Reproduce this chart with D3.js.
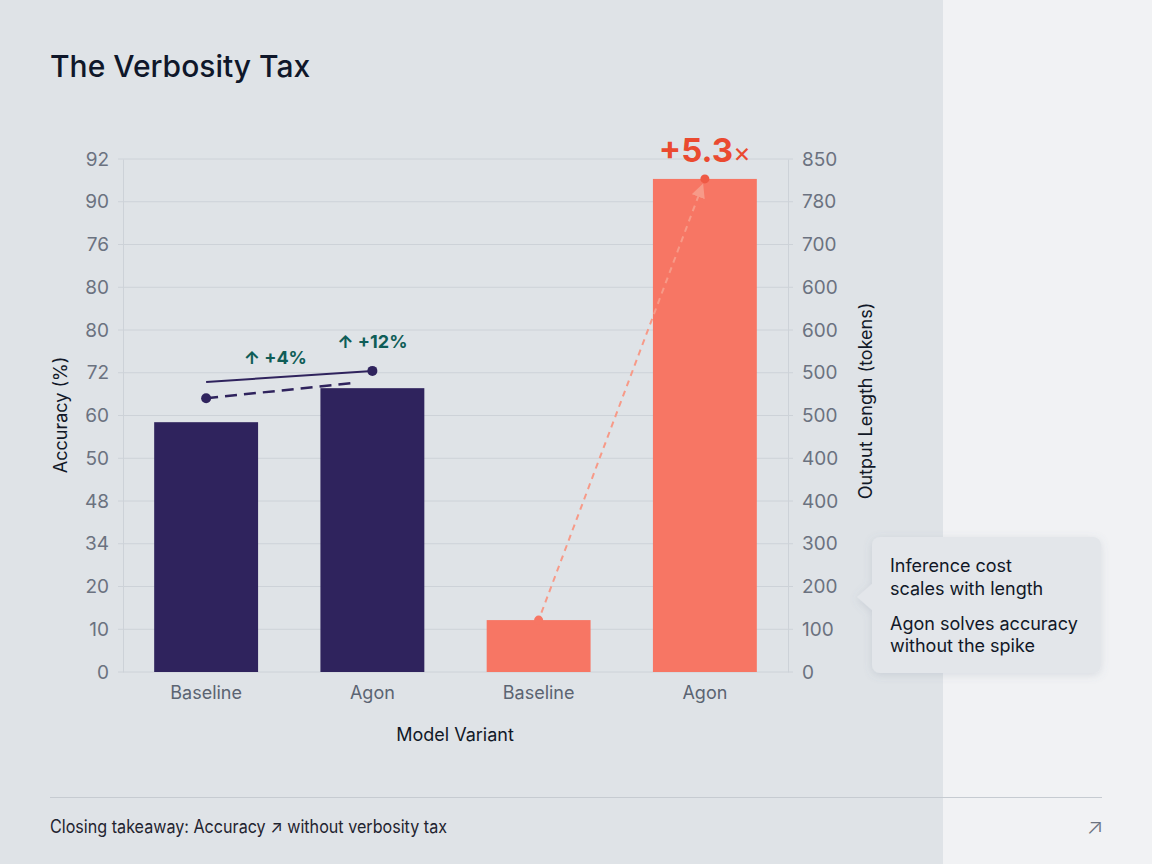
<!DOCTYPE html>
<html>
<head>
<meta charset="utf-8">
<script src="https://cdn.jsdelivr.net/npm/d3@7"></script>
<style>
  html, body { margin: 0; padding: 0; background: #f1f2f4; }
  svg { display: block; font-family: Inter, "Noto Sans", sans-serif; }
</style>
</head>
<body>
<div id="chart"></div>
<script>
// categories and values
const variants = ["Baseline", "Agon", "Baseline", "Agon"];
const groups = ["accuracy", "accuracy", "length", "length"];
const accuracyValues = [44.8, 50.9];      // left axis units
const lengthValues = [86, 817];           // right axis units
const accTickLabels = ["0", "10", "20", "34", "48", "50", "60", "72", "80", "80", "76", "90", "92"];
const lenTickLabels = ["0", "100", "200", "300", "400", "400", "500", "500", "600", "600", "700", "780", "850"];
const trendSolid = [52.0, 54.0];
const trendDashed = [49.1, 51.8];
const gainLabels = ["↑ +4%", "↑ +12%"];
const gainValues = [55.2, 58.1];
const multiplierLabel = "+5.3";

const W = 1152, H = 864;
const margin = { top: 159, right: 364, bottom: 192, left: 123 };
const width = W - margin.left - margin.right,
      height = H - margin.top - margin.bottom;

const svg = d3.select("#chart").append("svg")
  .attr("width", W).attr("height", H);

// backgrounds
svg.append("rect").attr("width", W).attr("height", H).attr("fill", "#f1f2f4");
svg.append("rect").attr("width", 943).attr("height", H).attr("fill", "#dfe3e7");

svg.append("text")
  .attr("x", 50).attr("y", 77)
  .attr("font-size", 30).attr("font-weight", 500)
  .attr("fill", "#0f172a")
  .text("The Verbosity Tax");

const defs = svg.append("defs");
const sh = defs.append("filter").attr("id", "shadow")
  .attr("x", "-20%").attr("y", "-20%").attr("width", "140%").attr("height", "140%");
sh.append("feDropShadow").attr("dx", 0).attr("dy", 2).attr("stdDeviation", 4)
  .attr("flood-color", "#64748b").attr("flood-opacity", 0.18);
defs.append("marker").attr("id", "arrow")
  .attr("viewBox", "0 0 10 10").attr("refX", 5).attr("refY", 5)
  .attr("markerWidth", 7).attr("markerHeight", 7)
  .attr("orient", "auto-start-reverse")
  .append("path").attr("d", "M0,0 L10,5 L0,10 z").attr("fill", "#f79a88");

const g = svg.append("g").attr("transform", `translate(${margin.left},${margin.top})`);

const x = d3.scaleBand()
  .domain(d3.range(variants.length))
  .range([0, width])
  .paddingInner(0.375)
  .paddingOuter(0.1875);

const yAcc = d3.scaleLinear().domain([0, 92]).range([height, 0]);
const yLen = d3.scaleLinear().domain([0, 850]).range([height, 0]);
const accTicks = d3.range(accTickLabels.length).map(i => i * 92 / (accTickLabels.length - 1));
const lenTicks = d3.range(lenTickLabels.length).map(i => i * 850 / (lenTickLabels.length - 1));

// grid
g.append("g")
  .selectAll("line").data(accTicks).enter().append("line")
  .attr("x1", -5).attr("x2", width + 5)
  .attr("y1", d => yAcc(d)).attr("y2", d => yAcc(d))
  .attr("stroke", "#cdd2d8").attr("stroke-width", 1);

const leftAxis = g.append("g")
  .call(d3.axisLeft(yAcc).tickValues(accTicks).tickFormat((d, i) => accTickLabels[i]).tickSize(0).tickPadding(14));
const rightAxis = g.append("g").attr("transform", `translate(${width},0)`)
  .call(d3.axisRight(yLen).tickValues(lenTicks).tickFormat((d, i) => lenTickLabels[i]).tickSize(0).tickPadding(14));
[leftAxis, rightAxis].forEach(a => {
  a.select(".domain").attr("stroke", "#cdd2d8");
  a.selectAll("text").attr("font-size", 19).attr("fill", "#6b7280")
    .attr("font-family", "Inter, sans-serif");
});

// x axis labels
g.append("g").attr("transform", `translate(0,${height})`)
  .call(d3.axisBottom(x).tickFormat(i => variants[i]).tickSize(0).tickPadding(14))
  .call(a => a.select(".domain").remove())
  .selectAll("text").attr("font-size", 18).attr("fill", "#5b6472")
  .attr("font-family", "Inter, sans-serif");

// bars
const barVal = i => groups[i] === "accuracy" ? yAcc(accuracyValues[i]) : yLen(lengthValues[i - 2]);
g.selectAll(".bar").data(d3.range(variants.length)).enter().append("rect")
  .attr("class", "bar")
  .attr("x", i => x(i))
  .attr("y", i => barVal(i))
  .attr("width", x.bandwidth())
  .attr("height", i => height - barVal(i))
  .attr("fill", i => groups[i] === "accuracy" ? "#2f235d" : "#f77664");

const cx = i => x(i) + x.bandwidth() / 2;

// accuracy trend lines
g.append("line")
  .attr("x1", cx(0)).attr("y1", yAcc(trendSolid[0]))
  .attr("x2", cx(1)).attr("y2", yAcc(trendSolid[1]))
  .attr("stroke", "#2f235d").attr("stroke-width", 2);
g.append("line")
  .attr("x1", cx(0)).attr("y1", yAcc(trendDashed[0]))
  .attr("x2", cx(1) - 20).attr("y2", yAcc(trendDashed[1]))
  .attr("stroke", "#2f235d").attr("stroke-width", 2.5)
  .attr("stroke-dasharray", "12,7");
g.append("circle").attr("cx", cx(0)).attr("cy", yAcc(trendDashed[0])).attr("r", 5).attr("fill", "#2f235d");
g.append("circle").attr("cx", cx(1)).attr("cy", yAcc(trendSolid[1])).attr("r", 5).attr("fill", "#2f235d");

g.selectAll(".gain").data(gainLabels).enter().append("text")
  .attr("class", "gain")
  .attr("x", (d, i) => i === 0 ? (cx(0) + cx(1)) / 2 - 14 : cx(1))
  .attr("y", (d, i) => yAcc(gainValues[i]))
  .attr("text-anchor", "middle")
  .attr("font-size", 18).attr("font-weight", 700)
  .attr("fill", "#0f5d57")
  .text(d => d);

// length jump arrow
const y0 = yLen(lengthValues[0]), y1 = yLen(lengthValues[1]);
const ax = cx(3) - cx(2), ay = y1 - y0, len = Math.hypot(ax, ay);
g.append("line")
  .attr("x1", cx(2) + ax * 8 / len).attr("y1", y0 + ay * 8 / len)
  .attr("x2", cx(3) - ax * 12 / len).attr("y2", y1 - ay * 12 / len)
  .attr("stroke", "#f79a88").attr("stroke-width", 2)
  .attr("stroke-dasharray", "6,5")
  .attr("marker-end", "url(#arrow)");
g.append("circle").attr("cx", cx(2)).attr("cy", y0).attr("r", 4.5).attr("fill", "#f77664");
g.append("circle").attr("cx", cx(3)).attr("cy", y1).attr("r", 4.5).attr("fill", "#ef5a45");

const mult = g.append("text")
  .attr("x", cx(3)).attr("y", y1 - 17)
  .attr("text-anchor", "middle")
  .attr("fill", "#ea4a30");
mult.append("tspan").attr("font-size", 33).attr("font-weight", 700).text(multiplierLabel);
mult.append("tspan").attr("font-size", 27).attr("font-weight", 400).text("×");

// axis titles
svg.append("text")
  .attr("transform", "translate(67,415) rotate(-90)")
  .attr("text-anchor", "middle").attr("font-size", 18).attr("fill", "#111827")
  .text("Accuracy (%)");
svg.append("text")
  .attr("transform", "translate(872,401) rotate(-90)")
  .attr("text-anchor", "middle").attr("font-size", 18).attr("fill", "#111827")
  .text("Output Length (tokens)");
svg.append("text")
  .attr("x", 455).attr("y", 741)
  .attr("text-anchor", "middle").attr("font-size", 18).attr("fill", "#111827")
  .text("Model Variant");

// callout
const callout = svg.append("g").attr("filter", "url(#shadow)");
callout.append("path")
  .attr("d", "M873,583 L857,597 L873,611 Z")
  .attr("fill", "#e3e6ea");
callout.append("rect")
  .attr("x", 872).attr("y", 537).attr("width", 229).attr("height", 136)
  .attr("rx", 8).attr("fill", "#e3e6ea");
const calloutLines = [["Inference cost", 572], ["scales with length", 595], ["Agon solves accuracy", 630], ["without the spike", 652]];
svg.selectAll(".callout-text").data(calloutLines).enter().append("text")
  .attr("class", "callout-text")
  .attr("x", 890).attr("y", d => d[1])
  .attr("font-size", 18).attr("fill", "#111827")
  .text(d => d[0]);

// footer
svg.append("line")
  .attr("x1", 50).attr("x2", 1102).attr("y1", 797.5).attr("y2", 797.5)
  .attr("stroke", "#c6cbd1").attr("stroke-width", 1.2);
svg.append("text")
  .attr("x", 50).attr("y", 833)
  .attr("font-size", 18).attr("fill", "#1f2430")
  .attr("textLength", 397).attr("lengthAdjust", "spacingAndGlyphs")
  .text("Closing takeaway: Accuracy ↗ without verbosity tax");
svg.append("text")
  .attr("x", 1095).attr("y", 834)
  .attr("text-anchor", "middle")
  .attr("font-size", 22).attr("font-weight", 300).attr("fill", "#6b7280")
  .text("↗");
</script>
</body>
</html>
